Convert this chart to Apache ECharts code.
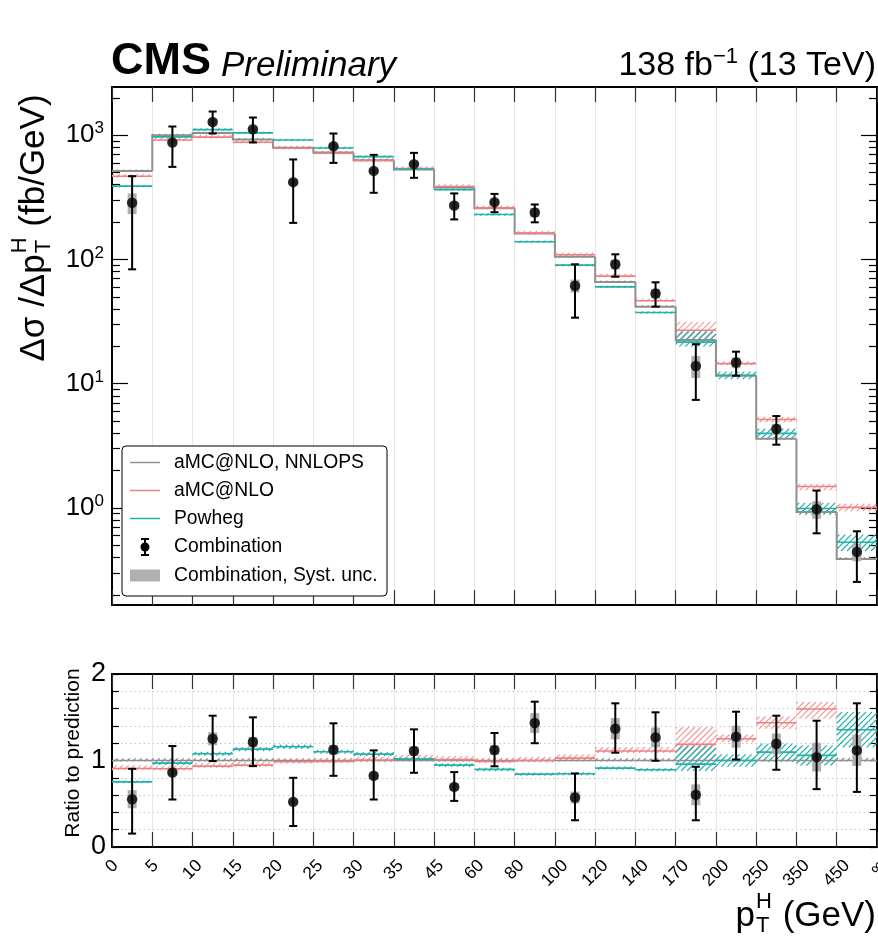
<!DOCTYPE html>
<html><head><meta charset="utf-8">
<script src="https://cdn.jsdelivr.net/npm/echarts@6/dist/echarts.min.js"></script>
<style>html,body{margin:0;padding:0;background:#fff}#c{width:878px;height:937px}</style>
</head><body><div id="c"></div>
<script>
// ---------------- data ----------------
const binEdges = ['0','5','10','15','20','25','30','35','45','60','80','100','120','140','170','200','250','350','450','\u221e'];
// top panel: d sigma / d pT (fb/GeV)
const combination     = [286, 874, 1279, 1117, 419, 816, 516, 585, 272, 289, 239, 61.5, 91.4, 53.3, 13.9, 14.8, 4.32, 0.975, 0.443];
const combinationUp   = [468, 1175, 1551, 1388, 638, 1032, 695, 721, 340, 337, 277, 91.4, 110, 65.5, 20.8, 18.1, 5.49, 1.38, 0.649];
const combinationDown = [83.3, 556, 1032, 874, 197, 599, 344, 454, 210, 240, 199, 34.0, 72.6, 41.7, 7.41, 11.6, 3.23, 0.625, 0.254];
const systRel         = [0.19, 0.04, 0.06, 0.05, 0.06, 0.05, 0.05, 0.05, 0.06, 0.05, 0.08, 0.12, 0.09, 0.09, 0.20, 0.10, 0.10, 0.16, 0.16];
const nnlops = [516, 1000, 1043, 923, 791, 726, 630, 530, 380, 258, 162, 105, 65.8, 41.7, 22.5, 11.6, 3.60, 0.93, 0.389];
const amcnlo = [467, 915, 965, 877, 785, 715, 625, 540, 387, 260, 163, 109, 73.4, 46.5, 26.9, 14.5, 5.15, 1.49, 1.01];
const powheg = [389, 970, 1110, 1045, 915, 790, 673, 534, 365, 230, 139, 90, 60.2, 37.4, 21.6, 11.7, 3.98, 0.99, 0.53];
// relative theory uncertainties
const nnlopsUncUp   = [0.025,0.025,0.025,0.025,0.025,0.025,0.025,0.025,0.025,0.025,0.025,0.025,0.025,0.025,0.17,0.03,0.03,0.03,0.03];
const nnlopsUncDown = [0.01,0.01,0.01,0.01,0.01,0.01,0.01,0.01,0.01,0.01,0.01,0.01,0.01,0.01,0.01,0.01,0.01,0.01,0.01];
const amcUncUp      = [0.04,0.04,0.04,0.04,0.04,0.04,0.04,0.04,0.04,0.04,0.04,0.04,0.04,0.04,0.17,0.04,0.05,0.05,0.07];
const amcUncDown    = [0.02,0.02,0.02,0.02,0.02,0.02,0.02,0.02,0.02,0.02,0.02,0.02,0.02,0.02,0.05,0.03,0.05,0.07,0.07];
const powhegUncUp   = [0.02,0.02,0.02,0.02,0.02,0.02,0.02,0.02,0.02,0.02,0.02,0.02,0.02,0.02,0.22,0.07,0.09,0.11,0.15];
const powhegUncDown = [0.02,0.02,0.02,0.02,0.02,0.02,0.02,0.02,0.02,0.02,0.02,0.02,0.02,0.02,0.08,0.07,0.10,0.11,0.15];
// ratio panel
const ratioNnlops = [1,1,1,1,1,1,1,1,1,1,1,1,1,1,1,1,1,1,1];
const ratioAmc    = [0.908,0.904,0.935,0.947,0.985,0.99,1.005,1.02,1.01,0.99,1.0,1.028,1.109,1.11,1.186,1.251,1.437,1.596,2.6];
const ratioPowheg = [0.753,0.97,1.078,1.132,1.159,1.101,1.074,1.016,0.947,0.897,0.842,0.846,0.912,0.893,0.958,1.0,1.097,1.059,1.356];
const ratioComb     = [0.553,0.862,1.251,1.213,0.522,1.124,0.823,1.109,0.695,1.12,1.433,0.572,1.368,1.267,0.603,1.275,1.193,1.039,1.117];
const ratioCombUp   = [0.904,1.167,1.518,1.499,0.8,1.43,1.117,1.36,0.866,1.318,1.68,0.85,1.661,1.557,0.927,1.564,1.518,1.46,1.661];
const ratioCombDown = [0.155,0.549,0.993,0.935,0.243,0.823,0.549,0.858,0.533,0.933,1.2,0.309,1.09,0.997,0.309,1.012,0.893,0.669,0.637];
const topTickExponents = [0, 1, 2, 3];

// ---------------- helpers ----------------
const FONT = '"Liberation Sans", Arial, Helvetica, sans-serif';
const C_GRAY = '#8f8f8f', C_RED = '#f08080', C_TEAL = '#20b2aa';
const H_GRAY = '#7a7a7a', H_RED = '#f29b9b', H_TEAL = '#20b2aa';
const mctx = document.createElement('canvas').getContext('2d');
function textWidth(t, size, pre) { mctx.font = (pre || '') + ' ' + size + 'px "Liberation Sans", Arial, sans-serif'; return mctx.measureText(t).width; }
const L = Math.log10;
const YMIN = -0.781, YMAX = 3.388;
const minorTop = [];
for (let n = -1; n <= 3; n++) for (let k = 2; k <= 9; k++) { const v = L(k) + n; if (v > YMIN && v < YMAX) minorTop.push(v); }

// diagonal hatch lines inside a pixel rectangle (styling of the band)
function hatchLines(x0, y0, w, h, color) {
  const kids = [];
  const step = 6;
  if (h < 0) { y0 += h; h = -h; }
  for (let c = Math.ceil((x0 + y0) / step) * step; c <= x0 + w + y0 + h; c += step) {
    const xa = Math.max(x0, c - (y0 + h)), xb = Math.min(x0 + w, c - y0);
    if (xb > xa) kids.push({ type: 'line', shape: { x1: xa, y1: c - xa, x2: xb, y2: c - xb }, style: { stroke: color, lineWidth: 1.2 } });
  }
  return kids;
}
function bandSeries(xi, yi, lo, hi, color, z) {
  return { type: 'custom', xAxisIndex: xi, yAxisIndex: yi, clip: true, silent: true, z,
    data: lo.map((l, i) => [i, l, hi[i]]),
    renderItem(p, api) { const i = api.value(0); const a = api.coord([i, api.value(2)]); const b = api.coord([i + 1, api.value(1)]);
      return { type: 'group', children: hatchLines(a[0], a[1], b[0] - a[0], b[1] - a[1], color) }; } };
}
function stepSeries(xi, yi, vals, color, w, z) {
  return { type: 'custom', xAxisIndex: xi, yAxisIndex: yi, clip: true, silent: true, z,
    data: vals.map((v, i) => [i, v, i === 0 ? v : vals[i - 1]]),
    renderItem(p, api) { const i = api.value(0), v = api.value(1), q = api.value(2);
      return { type: 'polyline', shape: { points: [api.coord([i, q]), api.coord([i, v]), api.coord([i + 1, v])] }, style: { stroke: color, lineWidth: w, fill: null } }; } };
}
function hlineSeries(xi, yi, vals, color, w, z) {
  return { type: 'custom', xAxisIndex: xi, yAxisIndex: yi, clip: true, silent: true, z,
    data: vals.map((v, i) => [i, v]),
    renderItem(p, api) { const i = api.value(0), v = api.value(1); const a = api.coord([i, v]), b = api.coord([i + 1, v]);
      return { type: 'line', shape: { x1: a[0], y1: a[1], x2: b[0], y2: b[1] }, style: { stroke: color, lineWidth: w } }; } };
}
function errSeries(xi, yi, lo, hi, z) {
  return { type: 'custom', xAxisIndex: xi, yAxisIndex: yi, clip: true, silent: true, z,
    data: lo.map((l, i) => [i + 0.5, l, hi[i]]),
    renderItem(p, api) { const x = api.value(0); const a = api.coord([x, api.value(1)]), b = api.coord([x, api.value(2)]);
      const st = { stroke: '#000', lineWidth: 2 };
      return { type: 'group', children: [
        { type: 'line', shape: { x1: a[0], y1: a[1], x2: b[0], y2: b[1] }, style: st },
        { type: 'line', shape: { x1: a[0] - 4, y1: a[1], x2: a[0] + 4, y2: a[1] }, style: st },
        { type: 'line', shape: { x1: b[0] - 4, y1: b[1], x2: b[0] + 4, y2: b[1] }, style: st } ] }; } };
}
function systSeries(xi, yi, lo, hi, z) {
  return { type: 'custom', xAxisIndex: xi, yAxisIndex: yi, clip: true, silent: true, z,
    data: lo.map((l, i) => [i + 0.5, l, hi[i]]),
    renderItem(p, api) { const x = api.value(0); const a = api.coord([x, api.value(2)]), b = api.coord([x, api.value(1)]);
      return { type: 'rect', shape: { x: a[0] - 4.5, y: a[1], width: 9, height: b[1] - a[1] }, style: { fill: '#b0b0b0' } }; } };
}
function pointSeries(xi, yi, vals, z) {
  return { type: 'scatter', xAxisIndex: xi, yAxisIndex: yi, silent: true, z, symbol: 'circle', symbolSize: 10.5,
    itemStyle: { color: '#000' }, data: vals.map((v, i) => [i + 0.5, v]) };
}

// ---------------- derived (log space for top panel) ----------------
const toLog = arr => arr.map(L);
const mul = (arr, rel, s) => arr.map((v, i) => v * (1 + s * rel[i]));

const xLabelRich = {};
binEdges.forEach((t, i) => { const w = textWidth(t, 17.5); xLabelRich['e' + i] = { fontSize: 17.5, fontFamily: FONT, color: '#000', padding: [w / 2, w / 2, 0, 0] }; });

const xBase = (grid, pos) => ({ type: 'value', gridIndex: grid, position: pos, min: 0, max: 19, interval: 1,
  axisLine: { show: true, onZero: false, lineStyle: { color: '#000', width: 2 } },
  axisTick: { show: true, inside: true, length: 15, lineStyle: { color: '#333', width: 1.2 } },
  axisLabel: { show: false }, splitLine: { show: false } });

const xAxes = [
  Object.assign(xBase(0, 'bottom'), { splitLine: { show: true, lineStyle: { color: '#e6e6e6', width: 1 } } }),
  xBase(0, 'top'),
  Object.assign(xBase(1, 'bottom'), { splitLine: { show: true, lineStyle: { color: '#e6e6e6', width: 1 } },
    axisLabel: { show: true, rotate: 45, align: 'center', verticalAlign: 'middle', margin: 16,
      formatter: v => { const i = Math.round(v); return '{e' + i + '|' + binEdges[i] + '}'; }, rich: xLabelRich } }),
  xBase(1, 'top')
];

const yTop = (pos, major, labels) => ({ type: 'value', gridIndex: 0, position: pos, min: YMIN, max: YMAX,
  axisLine: { show: major, onZero: false, lineStyle: { color: '#000', width: 2 } },
  axisTick: { show: true, inside: true, length: major ? 16 : 8, customValues: major ? topTickExponents : minorTop, lineStyle: { color: '#000', width: 1.2 } },
  axisLabel: labels ? { show: true, customValues: topTickExponents, margin: 8, formatter: v => '{b|10}{s|' + v + '}',
      rich: { b: { fontSize: 26, fontFamily: FONT, color: '#000', lineHeight: 30 }, s: { fontSize: 17, fontFamily: FONT, color: '#000', lineHeight: 15, verticalAlign: 'top' } } }
    : { show: false },
  splitLine: { show: false } });

const yBot = (pos, labels) => ({ type: 'value', gridIndex: 1, position: pos, min: 0, max: 2, interval: 0.2,
  axisLine: { show: true, onZero: false, lineStyle: { color: '#000', width: 2 } },
  axisTick: { show: true, inside: true, length: 7, lineStyle: { color: '#000', width: 1.2 } },
  axisLabel: labels ? { show: true, fontSize: 27, fontFamily: FONT, color: '#000', margin: 6,
      formatter: v => Math.abs(v - Math.round(v)) < 1e-6 ? String(Math.round(v)) : '' } : { show: false },
  splitLine: { show: labels, lineStyle: { color: '#c4c4c4', type: [1.5, 3], width: 1 } } });

const yAxes = [yTop('left', true, true), yTop('left', false, false), yTop('right', true, false), yTop('right', false, false), yBot('left', true), yBot('right', false)];

const series = [
  // top panel
  bandSeries(0, 0, toLog(mul(nnlops, nnlopsUncDown, -1)), toLog(mul(nnlops, nnlopsUncUp, 1)), H_GRAY, 1),
  bandSeries(0, 0, toLog(mul(amcnlo, amcUncDown, -1)), toLog(mul(amcnlo, amcUncUp, 1)), H_RED, 1),
  bandSeries(0, 0, toLog(mul(powheg, powhegUncDown, -1)), toLog(mul(powheg, powhegUncUp, 1)), H_TEAL, 1),
  stepSeries(0, 0, toLog(nnlops), C_GRAY, 2, 2),
  hlineSeries(0, 0, toLog(amcnlo), C_RED, 1.6, 2),
  hlineSeries(0, 0, toLog(powheg), C_TEAL, 1.6, 2),
  systSeries(0, 0, toLog(mul(combination, systRel, -1)), toLog(mul(combination, systRel, 1)), 3),
  errSeries(0, 0, toLog(combinationDown), toLog(combinationUp), 4),
  pointSeries(0, 0, toLog(combination), 5),
  // ratio panel
  bandSeries(2, 4, mul(ratioNnlops, nnlopsUncDown, -1), mul(ratioNnlops, nnlopsUncUp, 1), H_GRAY, 1),
  bandSeries(2, 4, mul(ratioAmc, amcUncDown, -1), mul(ratioAmc, amcUncUp, 1), H_RED, 1),
  bandSeries(2, 4, mul(ratioPowheg, powhegUncDown, -1), mul(ratioPowheg, powhegUncUp, 1), H_TEAL, 1),
  hlineSeries(2, 4, ratioNnlops, C_GRAY, 1.6, 2),
  hlineSeries(2, 4, ratioAmc, C_RED, 1.6, 2),
  hlineSeries(2, 4, ratioPowheg, C_TEAL, 1.6, 2),
  systSeries(2, 4, mul(ratioComb, systRel, -1), mul(ratioComb, systRel, 1), 3),
  errSeries(2, 4, ratioCombDown, ratioCombUp, 4),
  pointSeries(2, 4, ratioComb, 5)
];

// ---------------- titles / legend (graphic) ----------------
function stackedTitle(main1, sub, sup, main2, size, small) {
  const w1 = textWidth(main1, size), ws = Math.max(textWidth(sub, small), textWidth(sup, small)), w2 = textWidth(main2, size);
  const W = w1 + ws + w2;
  const st = (t, s, x, y) => ({ type: 'text', x, y, style: { text: t, fontSize: s, fontFamily: FONT, fill: '#000', align: 'left', verticalAlign: 'middle' } });
  return { W, children: [st(main1, size, 0, 0), st(sub, small, w1 + 1, 10), st(sup, small, w1 + 1, -14), st(main2, size, w1 + ws + 2, 0)] };
}
const yTitle = stackedTitle('\u0394\u03c3 /\u0394p', 'T', 'H', ' (fb/GeV)', 35, 22);
const xTitle = stackedTitle('p', 'T', 'H', ' (GeV)', 35, 22);

const legendRows = [462.5, 490.5, 518.5, 547, 575.5];
const legendTexts = ['aMC@NLO, NNLOPS', 'aMC@NLO', 'Powheg', 'Combination', 'Combination, Syst. unc.'];
const graphic = [
  { type: 'text', x: 111, y: 62, style: { text: 'CMS', fontSize: 45, fontWeight: 'bold', fontFamily: FONT, fill: '#000', verticalAlign: 'middle' } },
  { type: 'text', x: 221, y: 66, style: { text: 'Preliminary', fontSize: 35, fontStyle: 'italic', fontFamily: FONT, fill: '#000', verticalAlign: 'middle' } },
  { type: 'text', x: 876, y: 66, style: { text: '{a|138 fb}{s|\u22121}{a| (13 TeV)}', align: 'right', verticalAlign: 'middle',
      rich: { a: { fontSize: 34, fontFamily: FONT, fill: '#000', lineHeight: 40 }, s: { fontSize: 22, fontFamily: FONT, fill: '#000', lineHeight: 20, verticalAlign: 'top' } } } },
  { type: 'group', x: 34, y: 229 + yTitle.W / 2, rotation: Math.PI / 2, children: yTitle.children },
  { type: 'text', x: 73, y: 753, rotation: Math.PI / 2, style: { text: 'Ratio to prediction', fontSize: 21, fontFamily: FONT, fill: '#000', align: 'center', verticalAlign: 'middle' } },
  { type: 'group', x: 876 - xTitle.W - 2, y: 916, children: xTitle.children },
  // legend
  { type: 'rect', z: 50, shape: { x: 122, y: 446, width: 265, height: 150, r: 4 }, style: { fill: '#fff', stroke: '#000', lineWidth: 1 } },
  { type: 'line', z: 51, shape: { x1: 130, y1: legendRows[0], x2: 160, y2: legendRows[0] }, style: { stroke: C_GRAY, lineWidth: 1.5 } },
  { type: 'line', z: 51, shape: { x1: 130, y1: legendRows[1], x2: 160, y2: legendRows[1] }, style: { stroke: C_RED, lineWidth: 1.5 } },
  { type: 'line', z: 51, shape: { x1: 130, y1: legendRows[2], x2: 160, y2: legendRows[2] }, style: { stroke: C_TEAL, lineWidth: 1.5 } },
  { type: 'line', z: 51, shape: { x1: 145, y1: legendRows[3] - 8, x2: 145, y2: legendRows[3] + 8 }, style: { stroke: '#000', lineWidth: 2 } },
  { type: 'line', z: 51, shape: { x1: 141, y1: legendRows[3] - 8, x2: 149, y2: legendRows[3] - 8 }, style: { stroke: '#000', lineWidth: 2 } },
  { type: 'line', z: 51, shape: { x1: 141, y1: legendRows[3] + 8, x2: 149, y2: legendRows[3] + 8 }, style: { stroke: '#000', lineWidth: 2 } },
  { type: 'circle', z: 52, shape: { cx: 145, cy: legendRows[3], r: 4.5 }, style: { fill: '#000' } },
  { type: 'rect', z: 51, shape: { x: 130, y: legendRows[4] - 6, width: 30, height: 12 }, style: { fill: '#b0b0b0' } }
].concat(legendTexts.map((t, i) => ({ type: 'text', z: 51, x: 174, y: legendRows[i], style: { text: t, fontSize: 19.3, fontFamily: FONT, fill: '#000', verticalAlign: 'middle' } })));

const chart = echarts.init(document.getElementById('c'), null, { renderer: 'canvas' });
chart.setOption({
  animation: false,
  backgroundColor: '#fff',
  grid: [
    { left: 112, top: 87, width: 765, height: 518, containLabel: false, outerBoundsMode: 'none' },
    { left: 112, top: 674, width: 765, height: 173, containLabel: false, outerBoundsMode: 'none' }
  ],
  xAxis: xAxes,
  yAxis: yAxes,
  series,
  graphic
});
</script>
</body></html>
